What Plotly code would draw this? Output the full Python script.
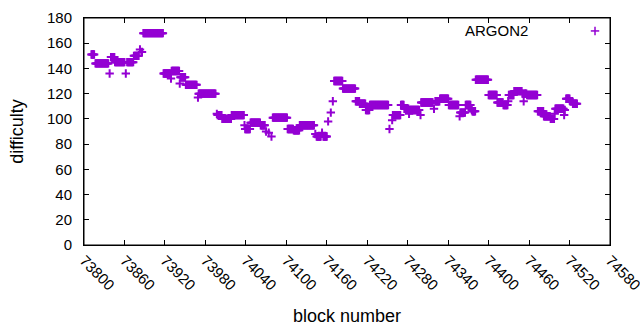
import plotly.graph_objects as go

# Run-length description of the series: each run is a stretch of consecutive
# blocks that share one difficulty value.
run_start = [73811, 73817, 73838, 73840, 73846, 73862, 73864, 73874, 73883, 73886,
             73888, 73918, 73929, 73930, 73942, 73943, 73951, 73969, 73970, 73997,
             73998, 74005, 74019, 74038, 74039, 74047, 74062, 74070, 74074, 74078,
             74080, 74102, 74111, 74120, 74143, 74145, 74153, 74155, 74162, 74166,
             74169, 74171, 74184, 74203, 74209, 74218, 74224, 74253, 74257, 74258,
             74270, 74275, 74282, 74283, 74299, 74300, 74319, 74321, 74328, 74341,
             74357, 74358, 74366, 74375, 74376, 74381, 74400, 74413, 74422, 74429,
             74430, 74438, 74450, 74452, 74453, 74457, 74473, 74482, 74492, 74498,
             74499, 74512, 74513, 74515, 74521, 74525]
run_end = [73815, 73836, 73838, 73845, 73860, 73862, 73873, 73881, 73883, 73886,
           73917, 73928, 73929, 73941, 73942, 73950, 73967, 73969, 73995, 73997,
           74004, 74018, 74037, 74038, 74046, 74061, 74068, 74070, 74074, 74078,
           74101, 74110, 74119, 74141, 74143, 74151, 74153, 74160, 74162, 74166,
           74169, 74183, 74202, 74208, 74217, 74223, 74251, 74253, 74257, 74269,
           74274, 74281, 74282, 74297, 74299, 74317, 74319, 74327, 74340, 74355,
           74357, 74365, 74373, 74375, 74380, 74399, 74412, 74421, 74428, 74429,
           74437, 74449, 74451, 74452, 74456, 74472, 74481, 74491, 74497, 74498,
           74511, 74512, 74513, 74520, 74524, 74531]
run_value = [151, 144, 136, 149, 145, 136, 145, 150, 155, 153,
             168, 136, 132, 138, 128, 133, 127, 117, 120, 104,
             103, 100, 103, 95, 92, 97, 95, 90, 89, 86,
             101, 92, 91, 95, 88, 86, 89, 86, 98, 105,
             114, 130, 124, 114, 112, 107, 111, 92, 99, 103,
             111, 108, 104, 107, 103, 113, 108, 114, 116, 111,
             102, 105, 111, 107, 106, 131, 119, 113, 111, 114,
             119, 122, 120, 114, 120, 119, 106, 102, 100, 104,
             108, 103, 107, 116, 114, 112]

x_ticks = [73800, 73860, 73920, 73980, 74040, 74100, 74160, 74220,
           74280, 74340, 74400, 74460, 74520, 74580]
y_ticks = [0, 20, 40, 60, 80, 100, 120, 140, 160, 180]

series_name = "ARGON2"
color = "#9400D3"

blocks, diffs = [], []
for s, e, v in zip(run_start, run_end, run_value):
    for b in range(s, e + 1):
        blocks.append(b)
        diffs.append(v)

fig = go.Figure()
fig.add_trace(go.Scatter(
    x=blocks, y=diffs, mode="markers", name=series_name, showlegend=False,
    marker=dict(symbol="cross-thin", size=6, color=color,
                line=dict(color=color, width=2)),
))

font = dict(family="Liberation Sans, Arial, sans-serif", size=15, color="black")

fig.update_layout(
    width=640, height=330,
    margin=dict(l=84, r=30, t=18, b=85, autoexpand=False),
    paper_bgcolor="white", plot_bgcolor="white",
    font=font,
    xaxis=dict(range=[73800, 74580], tickvals=x_ticks, ticktext=[str(t) for t in x_ticks],
               tickangle=45, ticks="inside", ticklen=5, tickcolor="black",
               showline=True, linecolor="black", linewidth=1, mirror="ticks",
               showgrid=False, zeroline=False, ticklabeloverflow="allow",
               automargin=False,
               title=dict(text="block number", standoff=16)),
    yaxis=dict(range=[0, 180], tickvals=y_ticks, ticks="inside", ticklen=5,
               tickcolor="black", showline=True, linecolor="black", linewidth=1,
               mirror="ticks", showgrid=False, zeroline=False,
               ticklabelstandoff=8, automargin=False,
               title=dict(text="difficulty", standoff=18)),
)

# plot frame
fig.add_shape(type="rect", xref="paper", yref="paper", x0=0, x1=1, y0=0, y1=1,
              line=dict(color="black", width=1), layer="above")

# key (gnuplot style: text then sample on its right)
lx, ly = 0.9715, 0.943
fig.add_annotation(x=0.848, y=ly, xref="paper", yref="paper", text=series_name,
                   showarrow=False, xanchor="right", yanchor="middle", font=font)
dx, dy = 4.2 / 526, 4.2 / 227
fig.add_shape(type="line", xref="paper", yref="paper", x0=lx - dx, x1=lx + dx,
              y0=ly, y1=ly, line=dict(color=color, width=1.5))
fig.add_shape(type="line", xref="paper", yref="paper", x0=lx, x1=lx,
              y0=ly - dy, y1=ly + dy, line=dict(color=color, width=1.5))

fig.write_html("out.html", config={"displayModeBar": False},
               post_script="document.body.style.margin='0';document.body.style.overflow='hidden';")
